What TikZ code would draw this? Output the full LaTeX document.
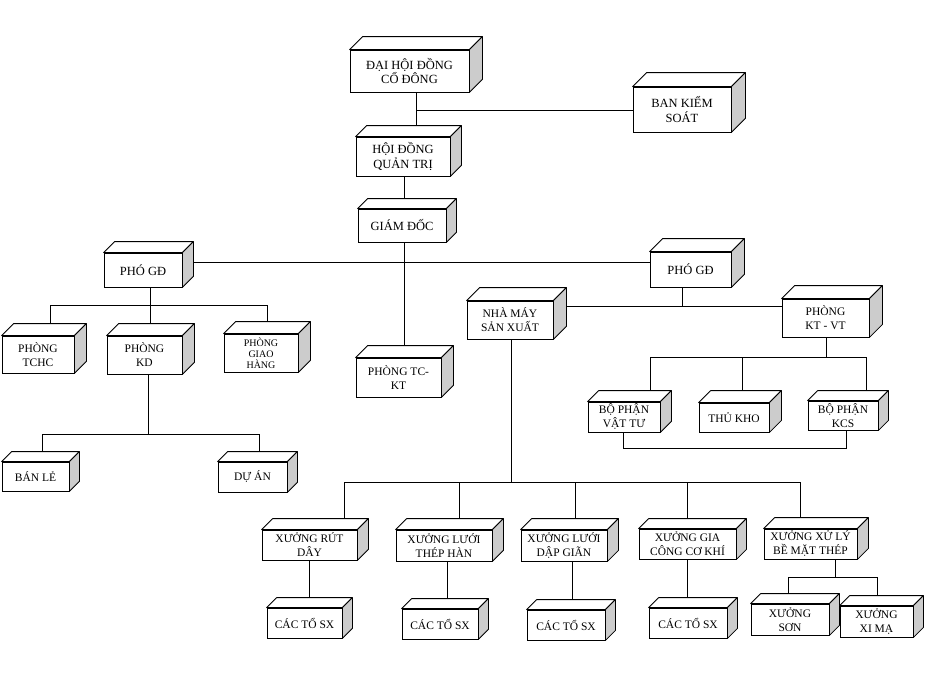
\documentclass[tikz,border=0pt]{standalone}
\usepackage{fontspec}
\setmainfont{Liberation Serif}
\usetikzlibrary{backgrounds}
\tikzset{
    box/.style={draw, fill=white, line width=0.8pt, align=center, inner sep=0pt,
        font=\fontsize{11.5}{14}\selectfont},
    big/.style={font=\fontsize{12.5}{14.5}\selectfont},
    sz/.style 2 args={minimum width=#1pt, minimum height=#2pt},
    link/.style={line width=2.4pt},
    topface/.style={draw, fill=white, line width=0.8pt, line join=round},
    sideface/.style={draw, fill=black!20, line width=0.8pt, line join=round}
}
\begin{document}
\begin{tikzpicture}[x=1pt, y=-1pt]
    \useasboundingbox (0,0) rectangle (942,688);
    % Boxes
    \node[box, big, sz={119}{42}] (dhd) at (409.5,71) {ĐẠI HỘI ĐỒNG\\CỔ ĐÔNG};
    \node[box, big, sz={98}{45}] (bks) at (682,109.5) {BAN KIỂM\\SOÁT};
    \node[box, big, sz={94}{39}] (hdqt) at (403,156.5) {HỘI ĐỒNG\\QUẢN TRỊ};
    \node[box, big, sz={88}{33}] (gd) at (402,225.5) {GIÁM ĐỐC};
    \node[box, big, sz={78}{34}] (pgdl) at (143,270) {PHÓ GĐ};
    \node[box, big, sz={81}{35}] (pgdr) at (690.5,269.5) {PHÓ GĐ};
    \node[box, sz={72}{37}] (tchc) at (38,354.5) {PHÒNG\\TCHC};
    \node[box, sz={75}{38}] (kd) at (144.5,355) {PHÒNG\\KD};
    \node[box, sz={74}{38}, font=\fontsize{10}{11}\selectfont] (gh) at (261,353) {PHÒNG\\GIAO\\HÀNG};
    \node[box, sz={85}{39}] (tckt) at (398.5,377.5) {PHÒNG TC-\\KT};
    \node[box, sz={67}{29}] (ble) at (35.5,476.5) {BÁN LẺ};
    \node[box, sz={69}{30}] (dan) at (252.5,477) {DỰ ÁN};
    \node[box, sz={86}{38}] (nmsx) at (510,320) {NHÀ MÁY\\SẢN XUẤT};
    \node[box, sz={87}{38}] (ktvt) at (825.5,318) {PHÒNG\\KT - VT};
    \node[box, sz={72}{30}] (bpvt) at (624,417) {BỘ PHẬN\\VẬT TƯ};
    \node[box, sz={70}{29}] (tkho) at (734,417.5) {THỦ KHO};
    \node[box, sz={70}{29}] (kcs) at (843,415.5) {BỘ PHẬN\\KCS};
    \node[box, sz={95}{30}] (xrd) at (309.5,545) {XƯỞNG RÚT\\DÂY};
    \node[box, sz={96}{31}] (xlth) at (444,545.5) {XƯỞNG LƯỚI\\THÉP HÀN};
    \node[box, sz={86}{31}] (xldg) at (564,545.5) {XƯỞNG LƯỚI\\DẬP GIÃN};
    \node[box, sz={97}{30}] (xgc) at (687.5,544) {XƯỞNG GIA\\CÔNG CƠ KHÍ};
    \node[box, sz={93}{30}] (xxl) at (810.5,544) {XƯỞNG XỬ LÝ\\BỀ MẶT THÉP};
    \node[box, sz={75}{30}] (ct1) at (304.5,623) {CÁC TỔ SX};
    \node[box, sz={76}{30}] (ct2) at (440,624) {CÁC TỔ SX};
    \node[box, sz={78}{30}] (ct3) at (566,625) {CÁC TỔ SX};
    \node[box, sz={78}{30}] (ct4) at (688,623) {CÁC TỔ SX};
    \node[box, sz={78}{31}] (xson) at (790,619.5) {XƯỞNG\\SƠN};
    \node[box, sz={73}{31}] (xxm) at (876.5,621.5) {XƯỞNG\\XI MẠ};
    % Faces
    \foreach \n/\d in {dhd/13, bks/14, hdqt/11, gd/10, pgdl/11, pgdr/13, tchc/12,
        kd/12, gh/12, tckt/12, ble/10, dan/10, nmsx/13, ktvt/13, bpvt/11, tkho/12,
        kcs/10, xrd/11, xlth/11, xldg/11, xgc/10, xxl/11, ct1/10, ct2/10, ct3/10,
        ct4/10, xson/10, xxm/10} {
        \filldraw[topface] (\n.north west) -- ++(\d pt,\d pt)
            -- ([shift={(\d pt,\d pt)}]\n.north east) -- (\n.north east) -- cycle;
        \filldraw[sideface] (\n.north east) -- ++(\d pt,\d pt)
            -- ([shift={(\d pt,\d pt)}]\n.south east) -- (\n.south east) -- cycle;
    }
    % Forks
    \coordinate (j1) at (416,110);
    \coordinate (j2) at (404,262);
    \coordinate (f1) at (150,305);
    \coordinate (f1l) at (50,305);
    \coordinate (f1r) at (267,305);
    \coordinate (f2) at (148,434);
    \coordinate (f2l) at (42,434);
    \coordinate (f2r) at (259,434);
    \coordinate (f3) at (682,306);
    \coordinate (f4) at (511,482);
    \coordinate (f4l) at (344,482);
    \coordinate (f4r) at (800,482);
    \coordinate (f5) at (826,357);
    \coordinate (f5l) at (650,357);
    \coordinate (f5r) at (866,357);
    \coordinate (f6l) at (623,448);
    \coordinate (f6r) at (846,448);
    \coordinate (f7) at (835,577);
    \coordinate (f7l) at (788,577);
    \coordinate (f7r) at (877,577);
    % Ways
    \begin{scope}[on background layer, link]
        \draw (j1 |- dhd.center) -- (j1 |- hdqt.center);
        \draw (j1) -- (j1 -| bks.center);
        \draw (j2 |- hdqt.center) -- (j2 |- tckt.center);
        \draw (j2 -| pgdl.center) -- (j2 -| pgdr.center);
        \draw (f1 |- pgdl.center) -- (f1 |- kd.center);
        \draw (f1l |- tchc.center) -- (f1l) -- (f1r) -- (f1r |- gh.center);
        \draw (f2 |- kd.center) -- (f2);
        \draw (f2l |- ble.center) -- (f2l) -- (f2r) -- (f2r |- dan.center);
        \draw (f3 |- pgdr.center) -- (f3);
        \draw (f3 -| nmsx.center) -- (f3 -| ktvt.center);
        \draw (f4 |- nmsx.center) -- (f4);
        \draw (f4l |- xrd.center) -- (f4l) -- (f4r) -- (f4r |- xxl.center);
        \foreach \n/\s in {xlth/15, xldg/11, xgc/0}
            \draw ([xshift=\s pt]\n.center) -- ([xshift=\s pt]\n.center |- f4);
        \foreach \n/\m/\s in {xrd/ct1/0, xlth/ct2/3, xldg/ct3/8, xgc/ct4/0}
            \draw ([xshift=\s pt]\n.center) -- ([xshift=\s pt]\n.center |- \m.center);
        \draw (f5 |- ktvt.center) -- (f5);
        \draw (f5l |- bpvt.center) -- (f5l) -- (f5r) -- (f5r |- kcs.center);
        \draw ([xshift=8pt]tkho.center) -- ([xshift=8pt]tkho.center |- f5);
        \draw (f6l |- bpvt.center) -- (f6l) -- (f6r) -- (f6r |- kcs.center);
        \draw (f7 |- xxl.center) -- (f7);
        \draw (f7l |- xson.center) -- (f7l) -- (f7r) -- (f7r |- xxm.center);
    \end{scope}
\end{tikzpicture}
\end{document}
